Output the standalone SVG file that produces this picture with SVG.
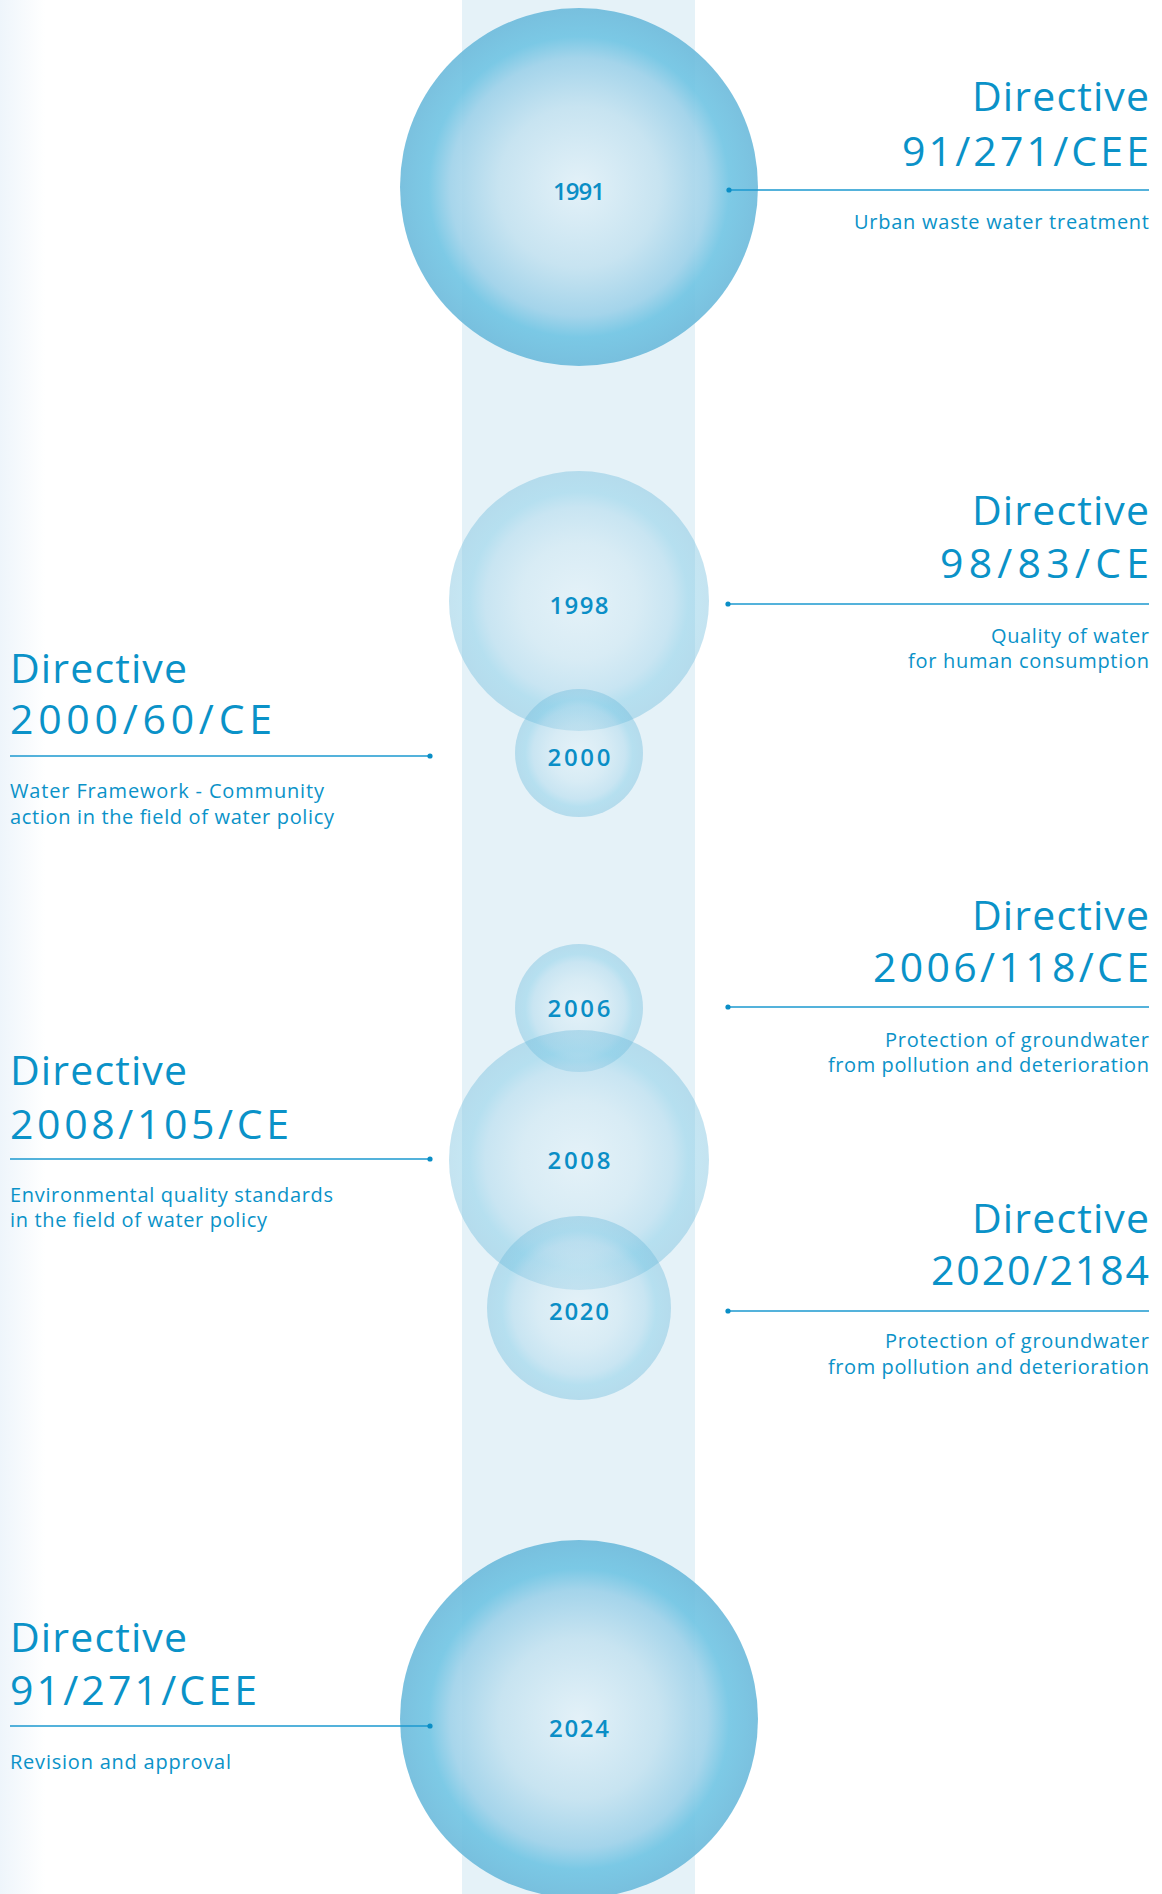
<svg xmlns="http://www.w3.org/2000/svg" width="1162" height="1894" viewBox="0 0 1162 1894">
<defs>
<linearGradient id="bgL" x1="0" y1="0" x2="1" y2="0">
<stop offset="0" stop-color="#eef5fb"/>
<stop offset="1" stop-color="#ffffff"/>
</linearGradient>
<radialGradient id="bub" cx="0.5" cy="0.5" r="0.5">
<stop offset="0" stop-color="#e3f1f8"/>
<stop offset="0.45" stop-color="#c4e2f0"/>
<stop offset="0.72" stop-color="#9dd1e9"/>
<stop offset="0.84" stop-color="#6fc4e3"/>
<stop offset="1" stop-color="#6cbadb"/>
</radialGradient>
<style>
.band{fill:#e5f2f8}
.strong{fill:url(#bub);opacity:0.9}
.light{fill:url(#bub);opacity:0.4}
.year{font-family:"Open Sans","Noto Sans",sans-serif;font-weight:600;font-size:24px;fill:#0a8ec6;text-anchor:middle}
.h{font-family:"Open Sans","Noto Sans",sans-serif;font-weight:500;font-size:41px;fill:#0a92c8}
.s{font-family:"Open Sans","Noto Sans",sans-serif;font-weight:500;font-size:20px;fill:#0a92c8}
.r{text-anchor:end}
.conn line{stroke:#1b98cf;stroke-width:1.6}
.conn circle{fill:#0a8ec6}
</style>
</defs>
<rect x="0" y="0" width="1162" height="1894" fill="#ffffff"/>
<rect x="0" y="0" width="45" height="1894" fill="url(#bgL)"/>
<rect class="band" x="462" y="0" width="233" height="1894"/>

<g id="node-1991"><circle class="strong" cx="579" cy="187" r="179"/></g>
<g id="node-1998"><circle class="light" cx="579" cy="601" r="130"/></g>
<g id="node-2000"><circle class="light" cx="579" cy="753" r="64"/></g>
<g id="node-2006"><circle class="light" cx="579" cy="1008" r="64"/></g>
<g id="node-2008"><circle class="light" cx="579" cy="1160" r="130"/></g>
<g id="node-2020"><circle class="light" cx="579" cy="1308" r="92"/></g>
<g id="node-2024"><circle class="strong" cx="579" cy="1719" r="179"/></g>

<g id="years">
<text class="year" x="579" y="200" textLength="52" lengthAdjust="spacing">1991</text>
<text class="year" x="579" y="614" textLength="59" lengthAdjust="spacing">1998</text>
<text class="year" x="579" y="766" textLength="63" lengthAdjust="spacing">2000</text>
<text class="year" x="579" y="1017" textLength="63" lengthAdjust="spacing">2006</text>
<text class="year" x="579" y="1169" textLength="63" lengthAdjust="spacing">2008</text>
<text class="year" x="579" y="1320" textLength="60" lengthAdjust="spacing">2020</text>
<text class="year" x="579" y="1737" textLength="60" lengthAdjust="spacing">2024</text>
</g>

<g id="connectors" class="conn">
<line x1="729" y1="190" x2="1149" y2="190"/><circle cx="729" cy="190" r="2.6"/>
<line x1="728" y1="604" x2="1149" y2="604"/><circle cx="728" cy="604" r="2.6"/>
<line x1="10" y1="756" x2="430" y2="756"/><circle cx="430" cy="756" r="2.6"/>
<line x1="728" y1="1007" x2="1149" y2="1007"/><circle cx="728" cy="1007" r="2.6"/>
<line x1="10" y1="1159" x2="430" y2="1159"/><circle cx="430" cy="1159" r="2.6"/>
<line x1="728" y1="1311" x2="1149" y2="1311"/><circle cx="728" cy="1311" r="2.6"/>
<line x1="10" y1="1726" x2="430" y2="1726"/><circle cx="430" cy="1726" r="2.6"/>
</g>

<g id="label-1991">
<text class="h r" x="1149" y="111" textLength="177" lengthAdjust="spacing">Directive</text>
<text class="h r" x="1149" y="166" textLength="247" lengthAdjust="spacing">91/271/CEE</text>
<text class="s r" x="1149" y="229" textLength="295" lengthAdjust="spacing">Urban waste water treatment</text>
</g>
<g id="label-1998">
<text class="h r" x="1149" y="525" textLength="177" lengthAdjust="spacing">Directive</text>
<text class="h r" x="1149" y="578" textLength="209" lengthAdjust="spacing">98/83/CE</text>
<text class="s r" x="1149" y="643" textLength="158" lengthAdjust="spacing">Quality of water</text>
<text class="s r" x="1149" y="668" textLength="241" lengthAdjust="spacing">for human consumption</text>
</g>
<g id="label-2000">
<text class="h" x="10" y="683" textLength="177" lengthAdjust="spacing">Directive</text>
<text class="h" x="10" y="734" textLength="262" lengthAdjust="spacing">2000/60/CE</text>
<text class="s" x="10" y="798" textLength="314" lengthAdjust="spacing">Water Framework - Community</text>
<text class="s" x="10" y="824" textLength="324" lengthAdjust="spacing">action in the field of water policy</text>
</g>
<g id="label-2006">
<text class="h r" x="1149" y="930" textLength="177" lengthAdjust="spacing">Directive</text>
<text class="h r" x="1149" y="982" textLength="276" lengthAdjust="spacing">2006/118/CE</text>
<text class="s r" x="1149" y="1047" textLength="264" lengthAdjust="spacing">Protection of groundwater</text>
<text class="s r" x="1149" y="1072" textLength="321" lengthAdjust="spacing">from pollution and deterioration</text>
</g>
<g id="label-2008">
<text class="h" x="10" y="1085" textLength="177" lengthAdjust="spacing">Directive</text>
<text class="h" x="10" y="1139" textLength="279" lengthAdjust="spacing">2008/105/CE</text>
<text class="s" x="10" y="1202" textLength="323" lengthAdjust="spacing">Environmental quality standards</text>
<text class="s" x="10" y="1227" textLength="257" lengthAdjust="spacing">in the field of water policy</text>
</g>
<g id="label-2020">
<text class="h r" x="1149" y="1233" textLength="177" lengthAdjust="spacing">Directive</text>
<text class="h r" x="1149" y="1285" textLength="218" lengthAdjust="spacing">2020/2184</text>
<text class="s r" x="1149" y="1348" textLength="264" lengthAdjust="spacing">Protection of groundwater</text>
<text class="s r" x="1149" y="1374" textLength="321" lengthAdjust="spacing">from pollution and deterioration</text>
</g>
<g id="label-2024">
<text class="h" x="10" y="1652" textLength="177" lengthAdjust="spacing">Directive</text>
<text class="h" x="10" y="1705" textLength="247" lengthAdjust="spacing">91/271/CEE</text>
<text class="s" x="10" y="1769" textLength="221" lengthAdjust="spacing">Revision and approval</text>
</g>
</svg>
